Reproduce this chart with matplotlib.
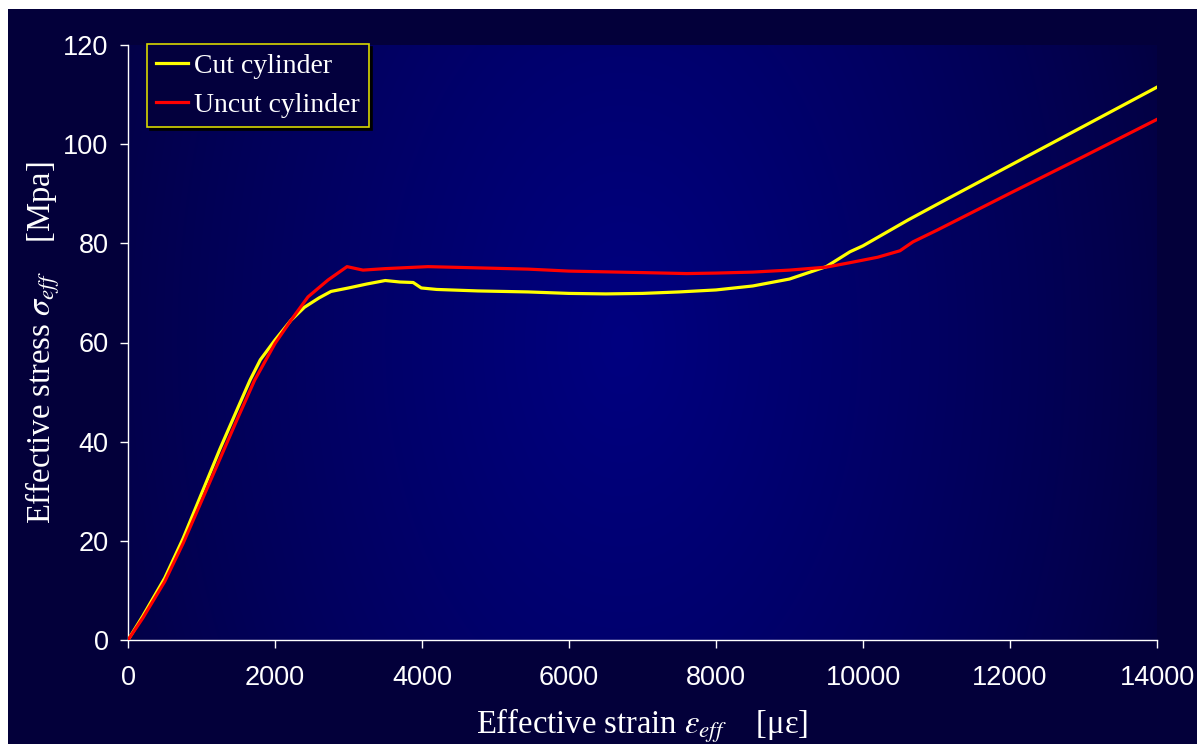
import numpy as np
import matplotlib
matplotlib.use("Agg")
import matplotlib.pyplot as plt
from matplotlib.patches import Rectangle

# ---- data ----
cut_strain = [0, 200, 500, 750, 1000, 1250, 1500, 1660, 1800, 2000, 2218, 2400, 2600,
              2762, 3000, 3250, 3500, 3700, 3880, 3990, 4200, 4762, 5442, 6000, 6500,
              7000, 7500, 8000, 8500, 9000, 9500, 9823, 10000, 10612, 11000, 12000,
              13000, 14000]
cut_stress = [0, 4.8, 12.5, 20.5, 29.5, 38.5, 47, 52.4, 56.5, 60.5, 64.5, 67.1, 69,
              70.3, 71, 71.8, 72.5, 72.2, 72.1, 71.0, 70.7, 70.4, 70.2, 69.9, 69.8,
              69.9, 70.2, 70.6, 71.4, 72.8, 75.3, 78.3, 79.5, 84.7, 87.8, 95.7,
              103.6, 111.5]

uncut_strain = [0, 200, 500, 750, 1000, 1250, 1500, 1723, 2000, 2218, 2449, 2721, 2980,
                3197, 3500, 4080, 5442, 6000, 7000, 7600, 8000, 8500, 9000, 9500, 9823,
                10200, 10503, 10680, 11000, 12000, 13000, 14000]
uncut_stress = [0, 4.4, 11.8, 19.5, 28, 36.5, 45, 52.4, 59.8, 64.5, 69.2, 72.6, 75.3,
                74.6, 74.9, 75.3, 74.8, 74.4, 74.1, 73.9, 74.0, 74.2, 74.6, 75.2, 76.1,
                77.2, 78.5, 80.3, 82.6, 90.1, 97.5, 105]

series_names = ["Cut cylinder", "Uncut cylinder"]
xticks = [0, 2000, 4000, 6000, 8000, 10000, 12000, 14000]
yticks = [0, 20, 40, 60, 80, 100, 120]

plt.rcParams['mathtext.fontset'] = 'stix'

W, H = 1200, 744
fig = plt.figure(figsize=(W / 100, H / 100), dpi=100, facecolor='white')
# dark navy page area
fig.patches.append(Rectangle((8 / W, 0), (1197 - 8) / W, (H - 9) / H,
                             transform=fig.transFigure, facecolor='#03003a',
                             edgecolor='none', zorder=-10))

l, r, t, b = 128, 1157, 45, 640
ax = fig.add_axes([l / W, 1 - b / H, (r - l) / W, (b - t) / H])
ax.set_facecolor('none')

# gradient background
nx, ny = 400, 200
u = np.linspace(0, 1, nx)[None, :]
v = np.linspace(0, 1, ny)[:, None]
d = np.sqrt(((u - 0.48) / 0.58) ** 2 + ((v - 0.5) / 1.6) ** 2)
f = np.clip(1 - d, 0, 1) ** 0.8
dark = np.array([3, 0, 60]) / 255
bright = np.array([0, 0, 128]) / 255
img = dark[None, None, :] * (1 - f[..., None]) + bright[None, None, :] * f[..., None]
ax.imshow(img, extent=[0, 14000, 0, 120], aspect='auto', zorder=0,
          interpolation='bilinear', origin='lower')

ax.plot(cut_strain, cut_stress, color='#ffff00', lw=2.3, label=series_names[0], zorder=3)
ax.plot(uncut_strain, uncut_stress, color='#ff0000', lw=2.3, label=series_names[1], zorder=3)

ax.set_xlim(0, 14000)
ax.set_ylim(0, 120)
ax.set_xticks(xticks)
ax.set_yticks(yticks)
for s in ['top', 'right']:
    ax.spines[s].set_visible(False)
for s in ['left', 'bottom']:
    ax.spines[s].set_color('white')
    ax.spines[s].set_linewidth(1.0)
ax.tick_params(colors='white', direction='out', length=6, width=1.0, labelsize=19.5)
ax.tick_params(axis='x', pad=12)
ax.tick_params(axis='y', pad=8)
for lab in ax.get_xticklabels() + ax.get_yticklabels():
    lab.set_fontfamily('Liberation Sans')

ax.set_xlabel(r"Effective strain $\varepsilon_{eff}$    [με]", color='white',
              fontsize=23.5, fontfamily='Liberation Serif', labelpad=11)
ax.set_ylabel(r"Effective stress $\sigma_{eff}$    [Mpa]", color='white',
              fontsize=23.5, fontfamily='Liberation Serif', labelpad=1)

leg = ax.legend(loc='upper left', bbox_to_anchor=(147 / W, 1 - 44 / H),
                bbox_transform=fig.transFigure, borderaxespad=0,
                prop={'family': 'Liberation Serif', 'size': 20},
                frameon=True, fancybox=False, shadow={'color': 'black', 'alpha': 1},
                facecolor='#03003d', edgecolor='#d8d800', framealpha=1,
                handlelength=1.15, handletextpad=0.22, labelspacing=0.5,
                borderpad=0.33)
leg.get_frame().set_linewidth(1.2)
for txt in leg.get_texts():
    txt.set_color('white')

fig.savefig('out.png', dpi=100, facecolor=fig.get_facecolor())
